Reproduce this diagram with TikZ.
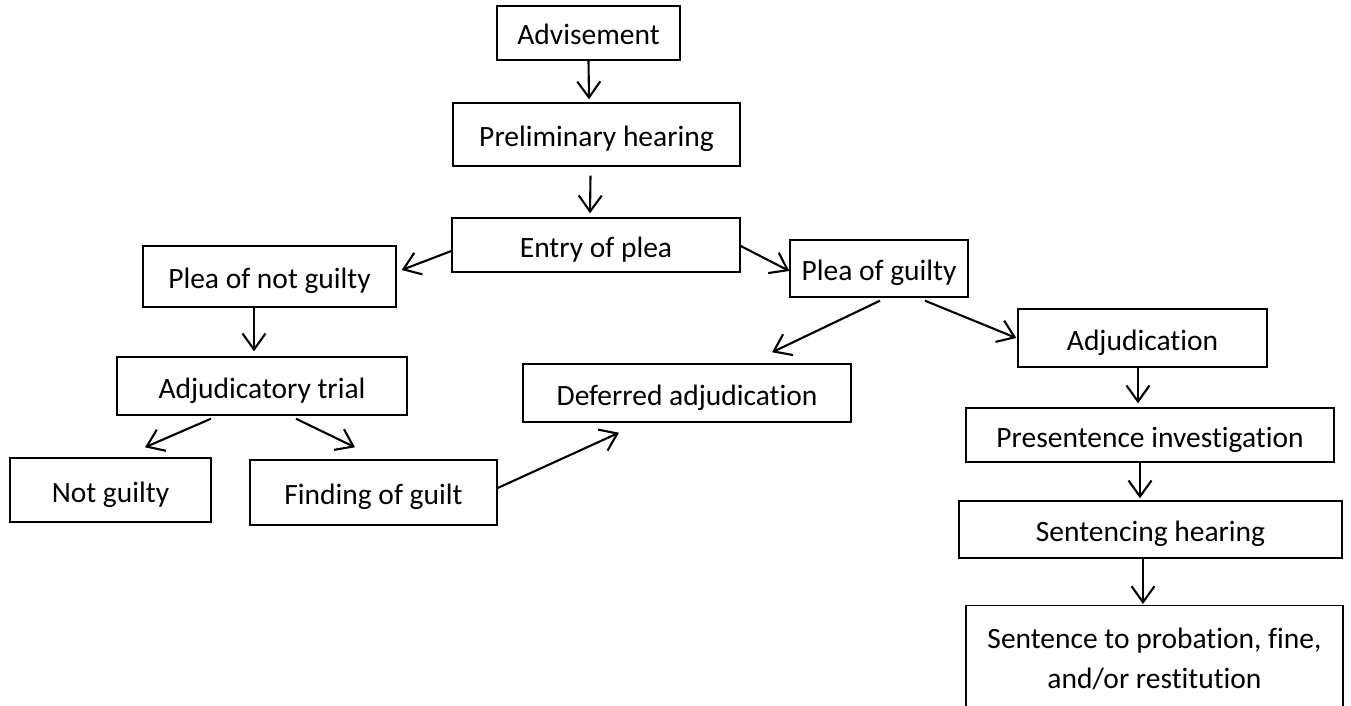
\documentclass[tikz,border=0pt]{standalone}
\usepackage{fontspec}
\setmainfont{Carlito}[Ligatures=NoCommon]
\usetikzlibrary{arrows.meta, calc}

\begin{document}
\begin{tikzpicture}[
    x=1pt, y=-1pt,
    box/.style={rectangle, draw=black, line width=1.4pt, inner sep=0pt,
                text height=26pt, text depth=2pt,
                align=center, font=\fontsize{29.5}{40}\selectfont},
    arrow/.style={-{Straight Barb[length=16pt, width=23pt]}, line width=2.1pt, black}
  ]
    \clip (0,0) rectangle (1351,706);

    \node[box, minimum width=183, minimum height=54] (adv) at (588.5,33) {Advisement};
    \node[box, minimum width=287, minimum height=63] (prelim) at (596.5,134.5) {Preliminary hearing};
    \node[box, minimum width=288, minimum height=54] (entry) at (596,245) {Entry of plea};
    \node[box, minimum width=253, minimum height=61] (pleang) at (269.5,276.5) {Plea of not guilty};
    \node[box, minimum width=178, minimum height=57] (pleag) at (879,268.5) {Plea of guilty};
    \node[box, minimum width=290, minimum height=58] (trial) at (262,386) {Adjudicatory trial};
    \node[box, minimum width=201, minimum height=64] (notg) at (110.5,490) {Not guilty};
    \node[box, minimum width=247, minimum height=65] (finding) at (373.5,492.5) {Finding of guilt};
    \node[box, minimum width=328, minimum height=58] (deferred) at (687,393) {Deferred adjudication};
    \node[box, minimum width=249, minimum height=58] (adjud) at (1142.5,338) {Adjudication};
    \node[box, minimum width=368, minimum height=54] (present) at (1150,435) {Presentence investigation};
    \node[box, minimum width=383, minimum height=57] (senthear) at (1150.5,529.5) {Sentencing hearing};
    \node[box, minimum width=377, minimum height=120, text height=48pt, text depth=2pt,
          anchor=north] (sentence) at (1154.5,605)
        {Sentence to probation, fine,\\and/or restitution};

    \draw[arrow] (adv.south) -- ($(prelim.north)+(-7.5,-3)$);
    \draw[arrow] ($(prelim.south)+(-6,9)$) -- ($(entry.north)+(-6,-4)$);
    \draw[arrow] ($(entry.west)+(0,6)$) -- ($(pleang.east)+(5,-6.5)$);
    \draw[arrow] ($(entry.east)+(0,1)$) -- ($(pleag.west)+(0,2.5)$);
    \draw[arrow] ($(pleang.south)+(-15.5,0)$) -- ($(trial.north)+(-8,-5)$);
    \draw[arrow] ($(trial.south)+(-51,3)$) -- ($(notg.north)+(34.5,-10)$);
    \draw[arrow] ($(trial.south)+(34,3)$) -- ($(finding.north)+(-18.5,-12)$);
    \draw[arrow] ($(finding.east)+(0,-4.5)$) -- ($(deferred.south)+(-68,10)$);
    \draw[arrow] ($(pleag.south)+(1,3)$) -- ($(deferred.north)+(85,-11)$);
    \draw[arrow] ($(pleag.south)+(46,3)$) -- ($(adjud.west)+(-1,0)$);
    \draw[arrow] ($(adjud.south)+(-4.5,0)$) -- ($(present.north)+(-12,-4)$);
    \draw[arrow] ($(present.south)+(-10,0)$) -- ($(senthear.north)+(-10.5,-2)$);
    \draw[arrow] ($(senthear.south)+(-7.5,0)$) -- ($(sentence.north)+(-11.5,-1)$);
  \end{tikzpicture}
\end{document}
